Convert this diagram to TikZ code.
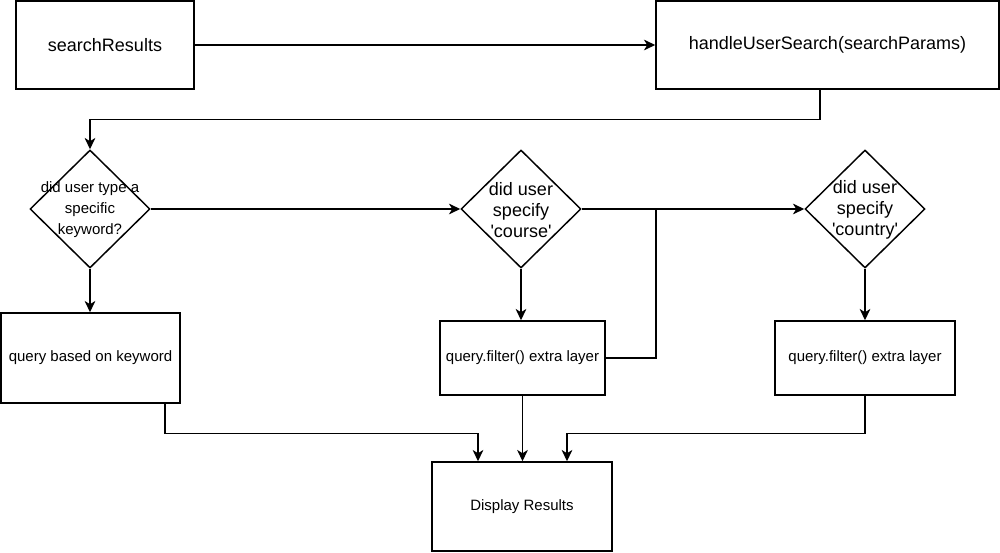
\documentclass[tikz,border=0pt]{standalone}
\usepackage{fontspec}
\setmainfont{Liberation Sans}
\usetikzlibrary{shapes.geometric,arrows.meta}
\begin{document}
\begin{tikzpicture}[x=0.75pt,y=-0.75pt,
  box/.style={draw, line width=1.1pt, inner sep=0pt, align=center,
    font=\fontsize{11.25pt}{15.75pt}\selectfont},
  bigtext/.style={font=\fontsize{13.5pt}{15.75pt}\selectfont},
  smalltext/.style={font=\fontsize{11.25pt}{15.75pt}\selectfont},
  dia/.style={draw, diamond, line width=1.1pt, inner sep=0pt,
    minimum width=90pt, minimum height=88.5pt},
  dtext/.style={align=center, inner sep=0pt},
  arr/.style={line width=1.1pt, -{Stealth[length=8.5pt,width=8pt,inset=2.5pt]}},
  conn/.style={line width=1.1pt}
]
\useasboundingbox (0,0) rectangle (1000,553);

% boxes
\node[box,bigtext,minimum width=133.5pt,minimum height=66pt] (sr) at (105,45) {searchResults};
\node[box,bigtext,minimum width=257.25pt,minimum height=66pt] (hu) at (827.5,45) {handleUserSearch(searchParams)};
\node[box,minimum width=134.25pt,minimum height=67.5pt] (kw) at (90.5,358) {query based on keyword};
\node[box,minimum width=123.75pt,minimum height=55.5pt] (cf) at (522.5,358) {query.filter() extra layer};
\node[box,minimum width=135pt,minimum height=55.5pt] (nf) at (865,358) {query.filter() extra layer};
\node[box,minimum width=135pt,minimum height=66.75pt] (dr) at (522,506.5) {Display Results};

% diamonds
\node[dia] (d1) at (90,209) {};
\node[dtext,smalltext] (d1t) at (90,210) {did user type a\\specific\\keyword?};
\node[dia] (d2) at (521,209) {};
\node[dtext,bigtext] (d2t) at (521,210) {did user\\specify\\\textquotesingle course\textquotesingle};
\node[dia] (d3) at (865,209) {};
\node[dtext,bigtext] (d3t) at (865,210) {did user\\specify\\\textquotesingle country\textquotesingle};

\coordinate (j) at (656,209);

% connectors
\draw[arr] (sr.east) -- (hu.west);
\draw[arr] ([xshift=-5.625pt]hu.south) -- ++(0,30) -| (d1.north);
\draw[arr] (d1.east) -- (d2.west);
\draw[arr] (d2.east) -- (d3.west);
\draw[conn] (cf.east) -| (j);
\draw[arr] (d1.south) -- (d1.south |- kw.north);
\draw[arr] (d2.south) -- (d2.south |- cf.north);
\draw[arr] (d3.south) -- (d3.south |- nf.north);
\draw[arr] ([xshift=55.875pt]kw.south) -- ++(0,30) -| ([xshift=-33pt]dr.north);
\draw[arr] (cf.south) -- (cf.south |- dr.north);
\draw[arr] (nf.south) -- ++(0,38) -| ([xshift=33.75pt]dr.north);
\end{tikzpicture}
\end{document}
